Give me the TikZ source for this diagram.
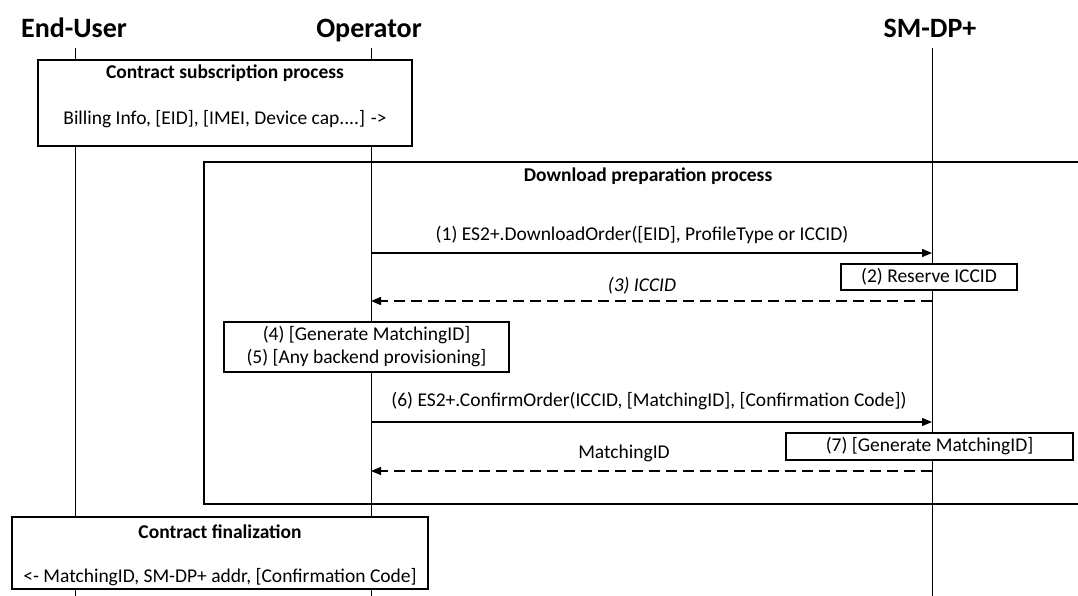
\documentclass[tikz,border=0pt]{standalone}
\usepackage{fontspec}
\setmainfont{Carlito}
\usetikzlibrary{positioning}
\usetikzlibrary{arrows.meta}

\tikzset{
    actor/.style={font=\fontsize{28}{32}\selectfont\bfseries, anchor=base},
    lifeline/.style={line width=1pt},
    procbox/.style={draw, line width=1.4pt, fill=white, inner sep=0pt},
    boxtitle/.style={font=\fontsize{19.5}{23}\selectfont\bfseries, inner sep=0pt},
    lbl/.style={font=\fontsize{19.5}{23}\selectfont, inner sep=0pt, align=center},
    msg/.style={line width=1.3pt, -{Triangle[length=10pt,width=8pt]}},
    reply/.style={msg, dash pattern=on 11pt off 6pt},
}

\begin{document}
\begin{tikzpicture}[x=1pt, y=-1pt]
        \useasboundingbox (0,0) rectangle (1078,595);

        % Actors
        \node[actor] (enduser) at (74,37) {End-User};
        \node[actor] (operator) at (369,37) {Operator};
        \node[actor] (smdp) at (930,37) {SM-DP+};

        % Lifelines
        \foreach \actor/\x in {eu/75, op/371, dp/932} {
            \coordinate (\actor-top) at (\x,48);
            \coordinate (\actor-bot) at (\x,600);
            \draw[lifeline] (\actor-top) -- (\actor-bot);
        }

        % Download preparation frame
        \node[draw, line width=1.4pt, inner sep=0pt, minimum width=886pt, minimum height=342pt] (dlprep) at (647,333) {};
        \node[boxtitle] (dlpreptitle) at (648,176) {Download preparation process};

        % Contract subscription
        \node[procbox, minimum width=374pt, minimum height=86pt] (subscr) at (225,103) {};
        \node[boxtitle] (subscrtitle) at (225,73) {Contract subscription process};
        \node[lbl] (subscrtext) at (225,119) {Billing Info, [EID], [IMEI, Device cap....] ->};

        % Messages
        \coordinate (op1) at (371,253);
        \coordinate (dp1) at (932,253);
        \draw[msg] (op1) -- (dp1);
        \node[lbl] (msg1) at (642,235) {(1) ES2+.DownloadOrder([EID], ProfileType or ICCID)};

        \node[procbox, minimum width=176pt, minimum height=26pt] (reserve) at (929,277) {};
        \node[lbl] (reservetext) at (reserve) {(2) Reserve ICCID};

        \coordinate (dp3) at (932,301);
        \coordinate (op3) at (371,301);
        \draw[reply] (dp3) -- (op3);
        \node[lbl, font=\fontsize{19.5}{23}\selectfont\itshape] (msg3) at (642,286) {(3) ICCID};

        \node[procbox, minimum width=285pt, minimum height=50pt] (genop) at (366.5,347) {};
        \node[lbl] (genoptext) at (genop) {(4) [Generate MatchingID]\\(5) [Any backend provisioning]};

        \coordinate (op6) at (371,422);
        \coordinate (dp6) at (932,422);
        \draw[msg] (op6) -- (dp6);
        \node[lbl] (msg6) at (649,401) {(6) ES2+.ConfirmOrder(ICCID, [MatchingID], [Confirmation Code])};

        \node[procbox, minimum width=287pt, minimum height=27pt] (gendp) at (929.5,446.5) {};
        \node[lbl] (gendptext) at (gendp) {(7) [Generate MatchingID]};

        \coordinate (dp7) at (932,471);
        \coordinate (op7) at (371,471);
        \draw[reply] (dp7) -- (op7);
        \node[lbl] (msg7) at (624,453) {MatchingID};

        % Contract finalization
        \node[procbox, minimum width=416pt, minimum height=72pt] (final) at (220,553) {};
        \node[boxtitle] (finaltitle) at (220,532) {Contract finalization};
        \node[lbl] (finaltext) at (220,577) {<- MatchingID, SM-DP+ addr, [Confirmation Code]};

    \end{tikzpicture}
\end{document}
